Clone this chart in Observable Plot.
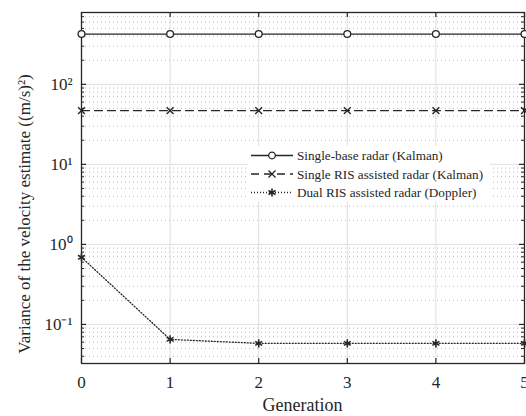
<!DOCTYPE html>
<html><head><meta charset="utf-8">
<script src="https://cdn.jsdelivr.net/npm/d3@7"></script>
<script src="https://cdn.jsdelivr.net/npm/@observablehq/plot@0.6"></script>
<style>
body{margin:0;background:#fff}
#chart{position:relative;width:526px;height:416px}
</style>
</head><body><div id="chart"></div>
<script>
// ---- data ----
const generations = [0, 1, 2, 3, 4, 5];
const singleBase = [425, 425, 425, 425, 425, 425];
const singleRIS = [47, 47, 47, 47, 47, 47];
const dualRIS = [0.69, 0.065, 0.058, 0.058, 0.058, 0.058];
const seriesNames = ["Single-base radar (Kalman)", "Single RIS assisted radar (Kalman)", "Dual RIS assisted radar (Doppler)"];
const xTickValues = [0, 1, 2, 3, 4, 5];
const yTickValues = [0.1, 1, 10, 100];
const yTickLabels = ["10\u207B\u00B9", "10\u2070", "10\u00B9", "10\u00B2"];
const xLabel = "Generation";
const yLabel = "Variance of the velocity estimate ((m/s)\u00B2)";

// ---- build ----
const yDomain = [0.0325, 790];
const xDomain = [0, 5];
const W = 526, H = 416;
const mL = 81, mR = 2, mT = 12, mB = 53;
const pxPerDecade = (H - mT - mB) / Math.log10(yDomain[1] / yDomain[0]);
const pxPerX = (W - mL - mR) / (xDomain[1] - xDomain[0]);

const series = [singleBase, singleRIS, dualRIS];
const rows = series.map((vals, i) => generations.map((g, j) => ({series: seriesNames[i], g, v: vals[j]})));

const minorTicks = [0.01, 0.1, 1, 10, 100].flatMap(d => [2,3,4,5,6,7,8,9].map(k => k * d))
  .filter(v => v > yDomain[0] && v < yDomain[1]);

const ink = "#262626";
const tx = px => px / pxPerX;
const ty = px => Math.pow(10, px / pxPerDecade);

const labelMap = new Map(yTickValues.map((v, i) => [v, yTickLabels[i]]));

const chart = Plot.plot({
  width: W, height: H,
  marginLeft: mL, marginRight: mR, marginTop: mT, marginBottom: mB,
  style: {fontFamily: "'Liberation Serif', 'Times New Roman', serif", fontSize: "17px", color: ink, background: "#fff", overflow: "visible"},
  x: {domain: xDomain},
  y: {type: "log", domain: yDomain},
  marks: [
    Plot.ruleY(minorTicks, {stroke: "#b8b8b8", strokeWidth: 1, strokeDasharray: "1,3"}),
    Plot.ruleY(yTickValues, {stroke: "#dedede", strokeWidth: 1}),
    Plot.ruleX(xTickValues, {stroke: "#dedede", strokeWidth: 1}),
    Plot.frame({stroke: ink, strokeWidth: 1.3}),
    Plot.ruleY(yTickValues, {x1: 0, x2: tx(5), stroke: ink, strokeWidth: 1.2}),
    Plot.ruleY(yTickValues, {x1: 5 - tx(5), x2: 5, stroke: ink, strokeWidth: 1.2}),
    Plot.ruleY(minorTicks, {x1: 0, x2: tx(3), stroke: ink, strokeWidth: 1}),
    Plot.ruleY(minorTicks, {x1: 5 - tx(3), x2: 5, stroke: ink, strokeWidth: 1}),
    Plot.ruleX(xTickValues, {y1: yDomain[0], y2: yDomain[0] * ty(5), stroke: ink, strokeWidth: 1.2}),
    Plot.ruleX(xTickValues, {y1: yDomain[1], y2: yDomain[1] / ty(5), stroke: ink, strokeWidth: 1.2}),
    Plot.axisX({ticks: xTickValues, tickSize: 0, tickPadding: 12, label: null, fontSize: 17, tickFormat: d3.format("d")}),
    Plot.axisY({ticks: yTickValues, tickSize: 0, tickPadding: 9, label: null, fontSize: 17, tickFormat: d => labelMap.get(d)}),
    Plot.line(rows[0], {x: "g", y: "v", stroke: ink, strokeWidth: 1.3}),
    Plot.line(rows[1], {x: "g", y: "v", stroke: ink, strokeWidth: 1.3, strokeDasharray: "8,5"}),
    Plot.line(rows[2], {x: "g", y: "v", stroke: ink, strokeWidth: 1.3, strokeDasharray: "1,2"}),
    Plot.dot(rows[0], {x: "g", y: "v", symbol: "circle", r: 3.4, fill: "#fff", stroke: ink, strokeWidth: 1.3}),
    Plot.dot(rows[1], {x: "g", y: "v", symbol: "times", r: 3.2, stroke: ink, strokeWidth: 1.4}),
    Plot.dot(rows[2], {x: "g", y: "v", symbol: "asterisk", r: 3.8, stroke: ink, strokeWidth: 1.6})
  ]
});
document.getElementById("chart").appendChild(chart);

// ---- axis titles and legend ----
const svg = d3.select(chart);
svg.append("text").attr("x", (mL + W - mR) / 2).attr("y", 411)
  .attr("text-anchor", "middle").attr("font-size", 18).style("fill", ink).text(xLabel);
svg.append("text").attr("transform", `translate(30,214) rotate(-90)`)
  .attr("text-anchor", "middle").attr("font-size", 17).style("fill", ink).text(yLabel);

const lg = svg.append("g").attr("font-size", 13.2);
lg.append("rect").attr("x", 248).attr("y", 146).attr("width", 242).attr("height", 55)
  .style("fill", "#ffffff").style("stroke", "none");
const rowY = [155.5, 174, 192.5];
const dashes = [null, "8,5", "1,2"];
const syms = [d3.symbolCircle, d3.symbolTimes, d3.symbolAsterisk];
seriesNames.forEach((name, i) => {
  const y = rowY[i];
  const ln = lg.append("line").attr("x1", 251).attr("x2", 293).attr("y1", y).attr("y2", y)
    .attr("stroke", ink).attr("stroke-width", 1.3);
  if (dashes[i]) ln.attr("stroke-dasharray", dashes[i]);
  const size = i === 2 ? Math.PI * 3.8 * 3.8 : Math.PI * 3.3 * 3.3;
  lg.append("path").attr("transform", `translate(272,${y})`).attr("d", d3.symbol(syms[i], size)())
    .style("fill", i === 0 ? "#fff" : "none").attr("stroke", ink).attr("stroke-width", i === 2 ? 1.6 : 1.3);
  lg.append("text").attr("x", 297).attr("y", y).attr("dy", "0.35em")
    .attr("text-anchor", "start").style("fill", ink).text(name);
});
</script>
</body></html>
